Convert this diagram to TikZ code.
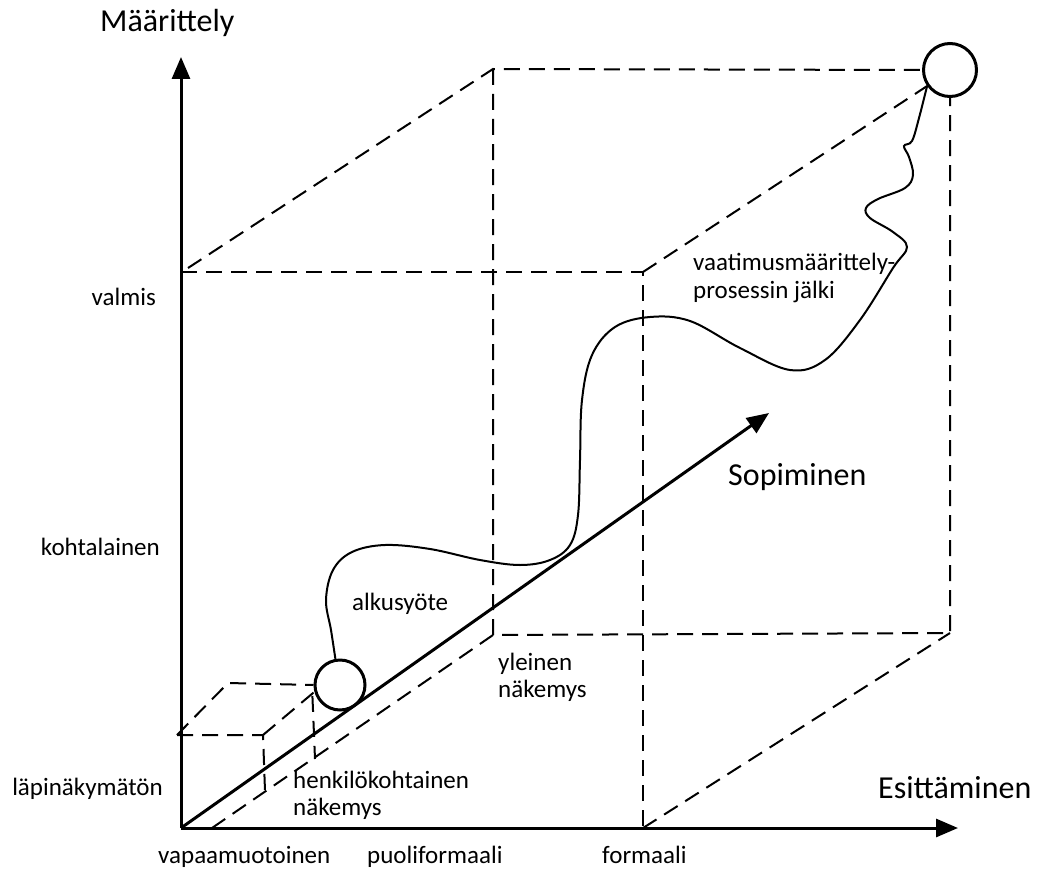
\documentclass[tikz,border=0pt]{standalone}
\usepackage{fontspec}
\setmainfont{Carlito}
\usetikzlibrary{arrows.meta}
\begin{document}
\begin{tikzpicture}[x=1pt,y=-1pt,
 axis/.style={line width=3pt,-{Triangle[length=22pt,width=18pt]}},
 dsh/.style={line width=2pt,dash pattern=on 16pt off 9pt},
 ring/.style={circle,draw,line width=3pt,inner sep=0pt},
 lbl/.style={font=\fontsize{25}{30}\selectfont,inner sep=0pt},
 big/.style={font=\fontsize{32}{38}\selectfont,inner sep=0pt},
 trace/.style={line width=2pt}]
\useasboundingbox (0,0) rectangle (1038,872);
% coordinates
\coordinate (O) at (181,828);
\coordinate (Ytip) at (181,57);
\coordinate (Xtip) at (958,828);
\coordinate (Stip) at (769,413);
\coordinate (FTL) at (188,268);
\coordinate (FL) at (181,272);
\coordinate (FTR) at (643,272);
\coordinate (FBR) at (643,828);
\coordinate (BTL) at (493,69);
\coordinate (BBL) at (493,635);
\coordinate (BBR) at (950,633);
\coordinate (DS) at (212,828);
% small cube
\coordinate (sA) at (177,735);
\coordinate (sB) at (263,735);
\coordinate (sC) at (228,683);
\coordinate (sBd) at (265,791);
\coordinate (sDd) at (315,759);
% circles
\node[ring,minimum size=50pt] (c1) at (340,685) {};
\node[ring,minimum size=53pt] (c2) at (950,70) {};
% dashed cube
\draw[dsh] (FTL) -- (BTL) -- (c2.west);
\draw[dsh] (BTL) -- (BBL) -- (BBR) -- (c2.south);
\draw[dsh] (FL) -- (FTR) -- (FBR);
\draw[dsh] (FTR) -- (c2.215);
\draw[dsh] (FBR) -- (BBR);
\draw[dsh] (DS) -- (BBL);
% small cube
\draw[dsh] (sA) -- (sB) -- (sBd);
\draw[dsh] (sA) -- (sC) -- (c1.west);
\draw[dsh] (sB) -- (c1.195);
\draw[dsh] (c1.195) ++(-2,4) -- (sDd);
% axes
\draw[axis] (O) -- (Ytip);
\draw[axis] (O) -- (Xtip);
\draw[axis] (O) -- (Stip);
% trace curve
\draw[trace] plot[smooth,tension=0.6] coordinates {(c1.100) (331,630) (326,600) (333,570) (352,552) (385,545) (430,549) (480,560) (520,565) (550,560) (570,545) (578,515) (580,460) (582,400) (592,355) (615,327) (650,317) (690,321) (740,348) (790,370) (825,360) (860,320) (893,268) (907,247) (893,232) (870,218) (866,208) (878,199) (905,188) (913,175) (909,157) (904,146) (912,141) (919,118) (c2.215)};
% labels
\node[big,anchor=base west] (tM) at (100,32) {Määrittely};
\node[lbl,anchor=base east] (tv) at (156,305) {valmis};
\node[lbl,anchor=base east] (tk) at (160,555) {kohtalainen};
\node[lbl,anchor=base east] (tl) at (163,795) {läpinäkymätön};
\node[lbl,anchor=base west] (tva) at (158,863) {vapaamuotoinen};
\node[lbl,anchor=base west] (tp) at (367,863) {puoliformaali};
\node[lbl,anchor=base west] (tf) at (602,863) {formaali};
\node[big,anchor=base west] (tE) at (878,798) {Esittäminen};
\node[big,anchor=base west] (tS) at (728,485) {Sopiminen};
\node[lbl,anchor=base west] (ta) at (352,610) {alkusyöte};
\node[lbl,anchor=base west] (ty1) at (498,670) {yleinen};
\node[lbl,anchor=base west] (ty2) at (498,697) {näkemys};
\node[lbl,anchor=base west] (th1) at (293,788) {henkilökohtainen};
\node[lbl,anchor=base west] (th2) at (293,815) {näkemys};
\node[lbl,anchor=base west] (tq1) at (693,270) {vaatimusmäärittely-};
\node[lbl,anchor=base west] (tq2) at (693,298) {prosessin jälki};
\end{tikzpicture}
\end{document}
